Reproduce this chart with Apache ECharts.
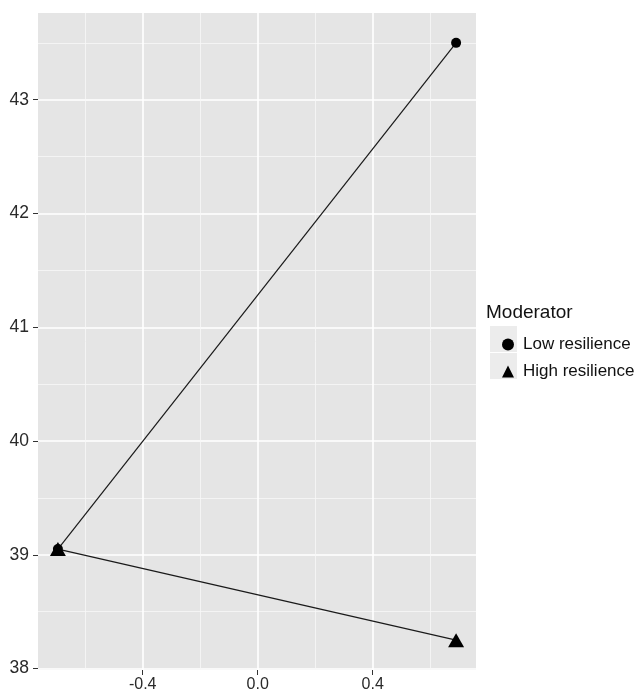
<!DOCTYPE html>
<html>
<head>
<meta charset="utf-8">
<script src="https://cdn.jsdelivr.net/npm/echarts@6/dist/echarts.min.js"></script>
<style>html,body{margin:0;padding:0;background:#fff;}#c{width:642px;height:693px;}</style>
</head>
<body>
<div id="c"></div>
<script>
const xValues = [-0.695, 0.69];
const lowResilience = [39.05, 43.5];
const highResilience = [39.05, 38.25];
const seriesNames = ['Low resilience', 'High resilience'];
const legendTitle = 'Moderator';
const xTicks = [-0.4, 0.0, 0.4];
const xMinor = [-0.6, -0.2, 0.2, 0.6];
const yTicks = [38, 39, 40, 41, 42, 43];
const yMinor = [38.5, 39.5, 40.5, 41.5, 42.5, 43.5];

function expand(vals) {
  const mn = Math.min(...vals), mx = Math.max(...vals), d = (mx - mn) * 0.05;
  return [mn - d, mx + d];
}
const xr = expand(xValues);
const yr = expand(lowResilience.concat(highResilience));

const font = 'Liberation Sans, Arial, sans-serif';
const chart = echarts.init(document.getElementById('c'));
const gridBox = { left: 38, right: 166, top: 13, bottom: 23 };

function majorX() {
  return {
    type: 'value', min: xr[0], max: xr[1], position: 'bottom',
    axisLine: { show: false, onZero: false },
    axisTick: { show: true, customValues: xTicks, length: 5, lineStyle: { color: '#333', width: 1 } },
    axisLabel: { customValues: xTicks, color: '#2a2a2a', fontSize: 16, fontFamily: font, margin: 7,
      formatter: v => v.toFixed(1) },
    splitLine: { show: true, lineStyle: { color: '#ffffff', width: 1.6 } }
  };
}
function minorX() {
  return {
    type: 'value', min: xr[0], max: xr[1], position: 'top',
    axisLine: { show: false, onZero: false },
    axisTick: { show: false, customValues: xMinor },
    axisLabel: { show: false, customValues: xMinor },
    splitLine: { show: true, lineStyle: { color: '#f7f7f7', width: 0.8 } }
  };
}
function majorY() {
  return {
    type: 'value', min: yr[0], max: yr[1], position: 'left',
    axisLine: { show: false, onZero: false },
    axisTick: { show: true, customValues: yTicks, length: 5, lineStyle: { color: '#333', width: 1 } },
    axisLabel: { customValues: yTicks, color: '#2a2a2a', fontSize: 17.5, fontFamily: font, margin: 9 },
    splitLine: { show: true, lineStyle: { color: '#ffffff', width: 1.6 } }
  };
}
function minorY() {
  return {
    type: 'value', min: yr[0], max: yr[1], position: 'right',
    axisLine: { show: false, onZero: false },
    axisTick: { show: false, customValues: yMinor },
    axisLabel: { show: false, customValues: yMinor },
    splitLine: { show: true, lineStyle: { color: '#f7f7f7', width: 0.8 } }
  };
}

const option = {
  backgroundColor: '#ffffff',
  animation: false,
  title: {
    text: legendTitle, left: 481, top: 298,
    textStyle: { fontFamily: font, fontSize: 19, fontWeight: 'normal', color: '#111' }
  },
  grid: Object.assign({ show: true, backgroundColor: '#e5e5e5', borderWidth: 0 }, gridBox),
  xAxis: [minorX(), majorX()],
  yAxis: [minorY(), majorY()],
  legend: {
    orient: 'vertical', left: 497, top: 326, itemGap: 0,
    itemWidth: 12, itemHeight: 12,
    textStyle: { fontFamily: font, fontSize: 17, color: '#111', lineHeight: 27, padding: [0, 0, 0, 4] },
    data: [
      { name: seriesNames[0], icon: 'circle' },
      { name: seriesNames[1], icon: 'triangle' }
    ]
  },
  graphic: [
    { type: 'rect', left: 490, top: 326, shape: { width: 27, height: 26 }, style: { fill: '#ececec' }, z: -1 },
    { type: 'rect', left: 490, top: 353, shape: { width: 27, height: 26 }, style: { fill: '#ececec' }, z: -1 }
  ],
  series: [
    {
      name: seriesNames[0], type: 'line', xAxisIndex: 1, yAxisIndex: 1,
      data: xValues.map((x, i) => [x, lowResilience[i]]),
      symbol: 'circle', symbolSize: 10,
      itemStyle: { color: '#000' },
      lineStyle: { color: '#1a1a1a', width: 1.2 }, z: 3
    },
    {
      name: seriesNames[1], type: 'line', xAxisIndex: 1, yAxisIndex: 1,
      data: xValues.map((x, i) => [x, highResilience[i]]),
      symbol: 'triangle', symbolSize: [16, 14],
      itemStyle: { color: '#000' },
      lineStyle: { color: '#1a1a1a', width: 1.2 }, z: 4
    }
  ]
};
chart.setOption(option);
</script>
</body>
</html>
